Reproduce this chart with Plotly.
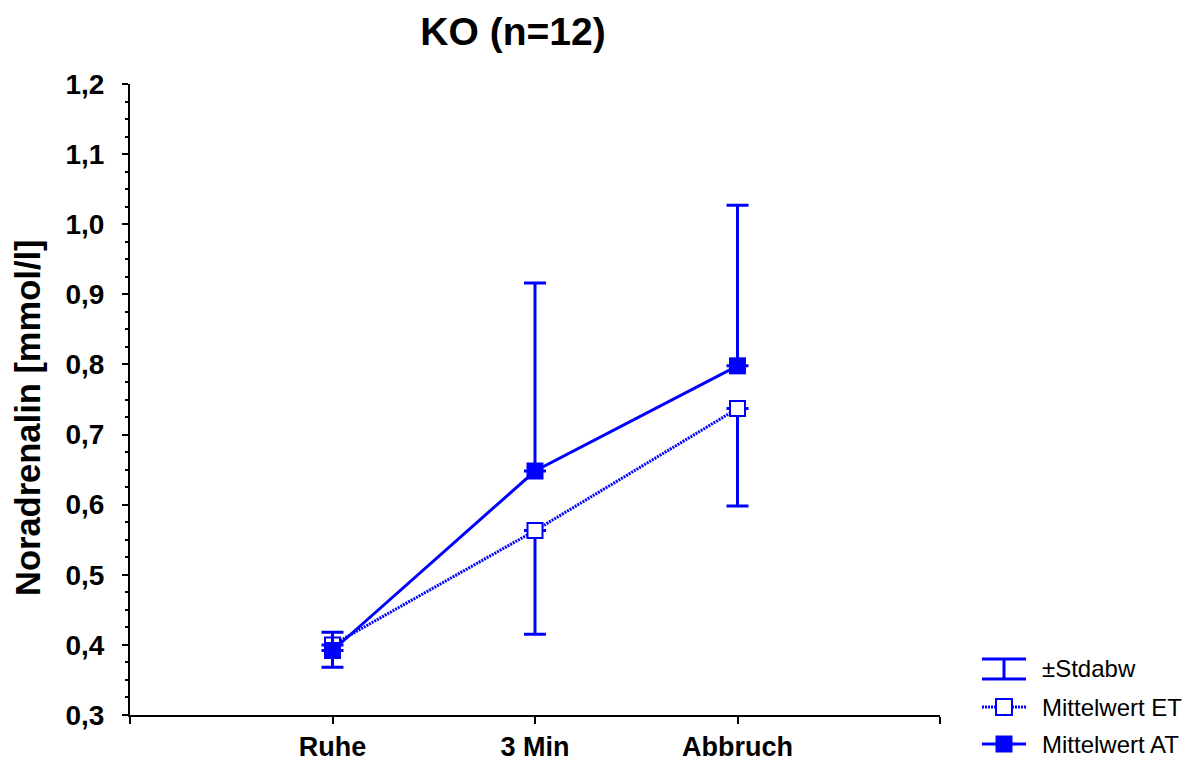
import plotly.graph_objects as go

# ---- data ----
categories = ["Ruhe", "3 Min", "Abbruch"]
mean_et = [0.400, 0.563, 0.737]
mean_at = [0.392, 0.648, 0.798]
sd_et_down = [0.032, 0.148, 0.139]   # lower error (ET)
sd_at_up = [0.026, 0.268, 0.229]     # upper error (AT)
y_ticks = [0.3, 0.4, 0.5, 0.6, 0.7, 0.8, 0.9, 1.0, 1.1, 1.2]
legend_labels = ["±Stdabw", "Mittelwert ET", "Mittelwert AT"]
title_text = "KO (n=12)"
y_title = "Noradrenalin [mmol/l]"

BLUE = "#0000FF"
W, H = 1192, 764
L, R, T, B = 130, 252, 84, 49
PW, PH = W - L - R, H - T - B

xpos = list(range(1, len(categories) + 1))


def px_x(p):
    return (p - L) / PW


def px_y(p):
    return (H - B - p) / PH


fig = go.Figure()

fig.add_trace(go.Scatter(
    x=xpos, y=mean_et, mode="lines+markers",
    line=dict(color=BLUE, width=3, dash="2px,1px"),
    marker=dict(symbol="square", size=15, color="white",
                line=dict(color=BLUE, width=2)),
    error_y=dict(type="data", symmetric=False, array=[0] * 3,
                 arrayminus=sd_et_down, color=BLUE, thickness=3, width=11),
    showlegend=False,
))
fig.add_trace(go.Scatter(
    x=xpos, y=mean_at, mode="lines+markers",
    line=dict(color=BLUE, width=3),
    marker=dict(symbol="square", size=17, color=BLUE,
                line=dict(color=BLUE, width=0)),
    error_y=dict(type="data", symmetric=False, array=sd_at_up,
                 arrayminus=[0] * 3, color=BLUE, thickness=3, width=11),
    showlegend=False,
))

FONT = "Arial, Liberation Sans, sans-serif"

shapes = []
annotations = []

# manual legend
gx0, gx1 = 982, 1026
gcx = (gx0 + gx1) / 2
# Stdabw glyph
y1, y2 = 659, 679
shapes += [
    dict(type="line", xref="paper", yref="paper", x0=px_x(gx0), x1=px_x(gx1),
         y0=px_y(y1), y1=px_y(y1), line=dict(color=BLUE, width=3)),
    dict(type="line", xref="paper", yref="paper", x0=px_x(gx0), x1=px_x(gx1),
         y0=px_y(y2), y1=px_y(y2), line=dict(color=BLUE, width=3)),
    dict(type="line", xref="paper", yref="paper", x0=px_x(gcx), x1=px_x(gcx),
         y0=px_y(y1), y1=px_y(y2), line=dict(color=BLUE, width=3)),
]
# ET glyph
ye = 707
shapes += [
    dict(type="line", xref="paper", yref="paper", x0=px_x(gx0), x1=px_x(gx1),
         y0=px_y(ye), y1=px_y(ye), line=dict(color=BLUE, width=3, dash="2px,1px")),
    dict(type="rect", xref="paper", yref="paper", x0=px_x(gcx - 8), x1=px_x(gcx + 8),
         y0=px_y(ye - 8), y1=px_y(ye + 8), fillcolor="white",
         line=dict(color=BLUE, width=2)),
]
# AT glyph
ya = 744
shapes += [
    dict(type="line", xref="paper", yref="paper", x0=px_x(gx0), x1=px_x(gx1),
         y0=px_y(ya), y1=px_y(ya), line=dict(color=BLUE, width=3)),
    dict(type="rect", xref="paper", yref="paper", x0=px_x(gcx - 8.5), x1=px_x(gcx + 8.5),
         y0=px_y(ya - 8.5), y1=px_y(ya + 8.5), fillcolor=BLUE,
         line=dict(color=BLUE, width=0)),
]
for lbl, yy in zip(legend_labels, [(y1 + y2) / 2 - 1, ye, ya]):
    annotations.append(dict(
        text=lbl, xref="paper", yref="paper", x=px_x(1040), y=px_y(yy),
        xanchor="left", yanchor="middle", showarrow=False,
        font=dict(family=FONT, size=24, color="black")))

# y-axis title
annotations.append(dict(
    text="<b>" + y_title + "</b>", xref="paper", yref="paper",
    x=px_x(28), y=px_y(418), xanchor="center", yanchor="middle",
    textangle=-90, showarrow=False,
    font=dict(family=FONT, size=34.5, color="black")))

fig.update_layout(
    width=W, height=H,
    margin=dict(l=L, r=R, t=T, b=B, pad=0, autoexpand=False),
    paper_bgcolor="white", plot_bgcolor="white",
    separators=",.",
    title=dict(text="<b>" + title_text + "</b>", x=513 / W, y=1 - 31 / H,
               xref="container", yref="container",
               xanchor="center", yanchor="middle",
               font=dict(family=FONT, size=39, color="black")),
    shapes=shapes,
    annotations=annotations,
    showlegend=False,
)

fig.update_xaxes(
    automargin=False,
    range=[0, len(categories) + 1],
    tickmode="array",
    tickvals=[0] + xpos + [len(categories) + 1],
    ticktext=[""] + categories + [""],
    showgrid=False, zeroline=False,
    showline=True, linecolor="black", linewidth=2,
    ticks="outside", ticklen=7, tickwidth=2, tickcolor="black",
    tickfont=dict(family=FONT, size=27, color="black", weight="bold"),
    ticklabelstandoff=0,
)
fig.update_yaxes(
    automargin=False,
    range=[y_ticks[0], y_ticks[-1]],
    tickmode="array", tickvals=y_ticks, tickformat=".1f",
    showgrid=False, zeroline=False,
    showline=True, linecolor="black", linewidth=2,
    ticks="outside", ticklen=6, tickwidth=2, tickcolor="black",
    minor=dict(dtick=0.025, ticks="outside", ticklen=3, tickwidth=2,
               tickcolor="black", showgrid=False),
    tickfont=dict(family=FONT, size=28, color="black", weight="bold"),
    ticklabelstandoff=12,
)

fig.write_html("out.html")
